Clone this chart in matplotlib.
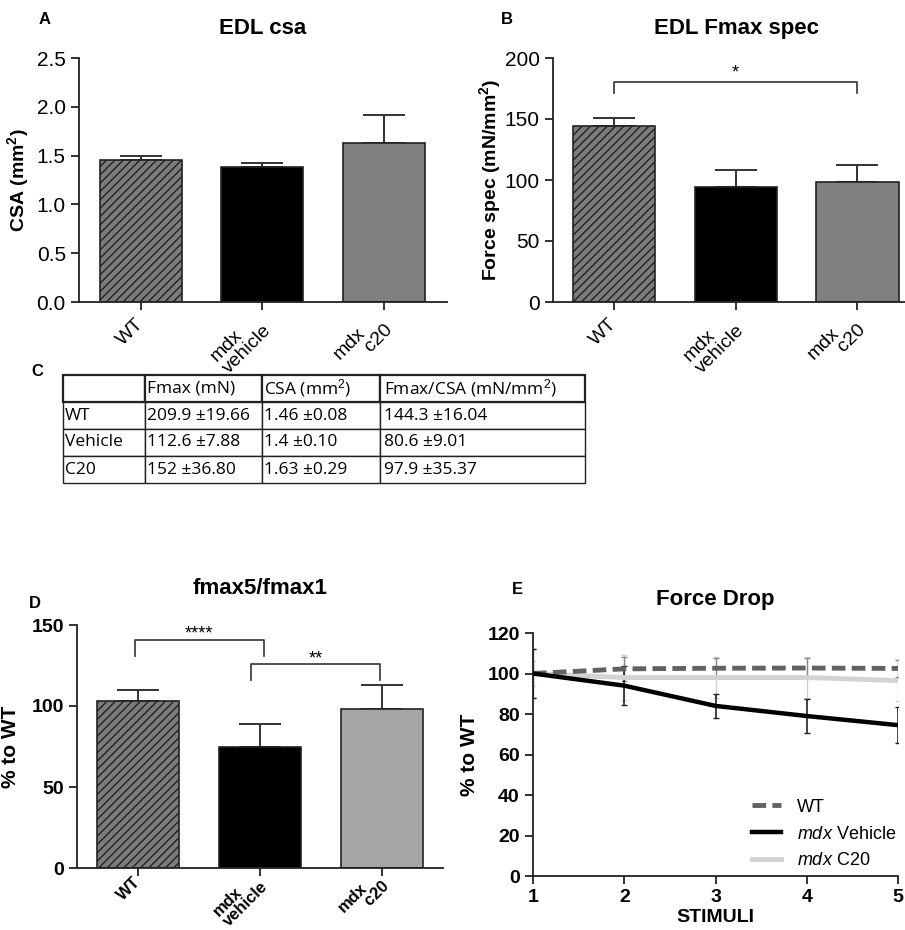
import matplotlib
matplotlib.use("Agg")
import matplotlib.pyplot as plt
import numpy as np

plt.rcParams['font.family'] = ['Liberation Sans', 'DejaVu Sans']
plt.rcParams['mathtext.fontset'] = 'custom'
plt.rcParams['mathtext.rm'] = 'Liberation Sans'
plt.rcParams['mathtext.it'] = 'Liberation Sans:italic'
plt.rcParams['mathtext.bf'] = 'Liberation Sans:bold'
plt.rcParams['hatch.linewidth'] = 1.0

# ---------------- data ----------------
group_labels = ["WT", "mdx\nvehicle", "mdx\n     c20"]
csa_mean = [1.46, 1.38, 1.63]
csa_err = [0.04, 0.04, 0.29]
fspec_mean = [144, 94, 98]
fspec_err = [7, 14, 14]
ratio_mean = [103, 75, 98]
ratio_err = [7, 14, 15]

table_cols = ["", "Fmax (mN)", "CSA (mm$^2$)", "Fmax/CSA (mN/mm$^2$)"]
table_rows = [
    ["WT", "209.9 \u00b119.66", "1.46 \u00b10.08", "144.3 \u00b116.04"],
    ["Vehicle", "112.6 \u00b17.88", "1.4 \u00b10.10", "80.6 \u00b19.01"],
    ["C20", "152 \u00b136.80", "1.63 \u00b10.29", "97.9 \u00b135.37"],
]

stimuli = [1, 2, 3, 4, 5]
drop_wt = [100, 102.3, 102.6, 102.7, 102.5]
drop_wt_err = [12, 6, 5, 5, 4]
drop_veh = [100, 94, 84, 79, 74.5]
drop_veh_err = [12, 9.5, 6, 8.5, 9]
drop_c20 = [100, 98, 98, 98, 96.5]
drop_c20_err = [6, 11, 10, 10, 10]

W, H = 905, 930
fig = plt.figure(figsize=(W / 100, H / 100), dpi=100)


def fx(px):
    return px / W


def fy(py):
    return 1 - py / H


def add_ax(l, t, r, b):
    return fig.add_axes([fx(l), fy(b), fx(r) - fx(l), fy(t) - fy(b)])


def style(ax):
    for s in ['top', 'right']:
        ax.spines[s].set_visible(False)
    for s in ['left', 'bottom']:
        ax.spines[s].set_linewidth(1.3)
        ax.spines[s].set_color('#222222')
    ax.tick_params(direction='out', length=6, width=1.3, color='#222222')


def bar_panel(ax, means, errs, c20_color, bold, lab_size, lab_pad, lsp):
    x = np.arange(3)
    colors = ['#7c7c7c', 'black', c20_color]
    hatches = ['////', None, None]
    for i in range(3):
        ax.bar(x[i], means[i], width=0.675, color=colors[i], edgecolor='#222222',
               linewidth=1.2, hatch=hatches[i], zorder=2)
    ax.errorbar(x, means, yerr=[[0, 0, 0], errs], fmt='none', ecolor='#333333',
                elinewidth=1.4, capsize=15, capthick=1.4, zorder=1)
    ax.set_xticks(x)
    ax.set_xticklabels(group_labels, rotation=45, ha='right', va='center',
                       rotation_mode='anchor', multialignment='left',
                       fontsize=lab_size, fontweight='bold' if bold else 'normal',
                       linespacing=lsp)
    style(ax)
    ax.tick_params(axis='x', pad=lab_pad)


# ---------------- Panel A ----------------
axA = add_ax(79, 58, 447, 302)
bar_panel(axA, csa_mean, csa_err, '#7f7f7f', False, 14, 8, 1.0)
axA.set_xlim(-0.51, 2.52)
axA.set_ylim(0, 2.5)
axA.set_yticks([0, 0.5, 1.0, 1.5, 2.0, 2.5])
axA.set_yticklabels(["0.0", "0.5", "1.0", "1.5", "2.0", "2.5"], fontsize=15)
axA.set_ylabel("CSA (mm$^\\mathbf{2}$)", fontsize=14, fontweight='bold', labelpad=4)
axA.set_title("EDL csa", fontsize=16, fontweight='bold', pad=17)

# ---------------- Panel B ----------------
axB = add_ax(553, 58, 905, 302)
bar_panel(axB, fspec_mean, fspec_err, '#7f7f7f', False, 14, 8, 1.0)
axB.set_xlim(-0.5, 2.39)
axB.set_ylim(0, 200)
axB.set_yticks([0, 50, 100, 150, 200])
axB.tick_params(axis='y', labelsize=15)
axB.set_ylabel("Force spec (mN/mm$^\\mathbf{2}$)", fontsize=14, fontweight='bold', labelpad=1)
axB.set_title("EDL Fmax spec", fontsize=16, fontweight='bold', pad=17, x=0.52)
# significance bracket
axB.plot([0, 0, 2, 2], [171, 180, 180, 171], color='#333333', lw=1.2, clip_on=False)
axB.text(1, 180.5, "*", ha='center', va='bottom', fontsize=13)

# ---------------- Table C ----------------
axC = add_ax(63, 375, 585, 483)
axC.axis('off')
tbl = axC.table(cellText=table_rows, colLabels=table_cols, bbox=[0, 0, 1, 1],
                colWidths=[82, 117, 118, 205], cellLoc='left', colLoc='left')
tbl.auto_set_font_size(False)
for (r, c), cell in tbl.get_celld().items():
    cell.set_linewidth(1.6 if r == 0 else 1.0)
    cell.set_edgecolor('#222222')
    cell.get_text().set_fontsize(12.5)
    cell.get_text().set_fontfamily(['Open Sans', 'DejaVu Sans'])
    cell.PAD = 0.02

# ---------------- Panel D ----------------
axD = add_ax(77, 625, 443, 868)
bar_panel(axD, ratio_mean, ratio_err, '#a5a5a5', True, 12, 2, 0.95)
axD.set_xlim(-0.506, 2.506)
axD.set_ylim(0, 150)
axD.set_yticks([0, 50, 100, 150])
axD.set_yticklabels(["0", "50", "100", "150"], fontsize=14, fontweight='bold')
axD.set_ylabel("% to WT", fontsize=15, fontweight='bold', labelpad=8)
axD.set_title("fmax5/fmax1", fontsize=16, fontweight='bold', pad=22)
axD.plot([-0.03, -0.03, 1.03, 1.03], [131, 141, 141, 131], color='#333333', lw=1.2, clip_on=False)
axD.text(0.5, 139, "****", ha='center', va='bottom', fontsize=13)
axD.plot([0.93, 0.93, 1.99, 1.99], [116, 126, 126, 116], color='#333333', lw=1.2, clip_on=False)
axD.text(1.46, 124, "**", ha='center', va='bottom', fontsize=13)

# ---------------- Panel E ----------------
axE = add_ax(533, 633, 898, 876)
axE.errorbar(stimuli, drop_c20, yerr=drop_c20_err, fmt='none', ecolor='#d0d0d0',
             elinewidth=1.0, capsize=2, zorder=2)
axE.errorbar(stimuli, drop_wt, yerr=drop_wt_err, fmt='none', ecolor='#8a8a8a',
             elinewidth=1.0, capsize=2, zorder=2)
axE.errorbar(stimuli, drop_veh, yerr=drop_veh_err, fmt='none', ecolor='#222222',
             elinewidth=1.2, capsize=2, zorder=3)
axE.plot(stimuli, drop_wt, color='#626262', lw=3.5, ls=(0, (2.8, 1.3)), zorder=4, label='WT')
axE.plot(stimuli, drop_veh, color='black', lw=3.2, zorder=4, label='$\\mathit{mdx}$ Vehicle')
axE.plot(stimuli, drop_c20, color='#d3d3d3', lw=3.5, zorder=3, label='$\\mathit{mdx}$ C20')
axE.set_xlim(1, 5)
axE.set_ylim(0, 120)
axE.set_xticks(stimuli)
axE.set_yticks(range(0, 121, 20))
axE.tick_params(labelsize=14)
for t in axE.get_xticklabels() + axE.get_yticklabels():
    t.set_fontweight('bold')
axE.set_xlabel("STIMULI", fontsize=14, fontweight='bold', labelpad=2)
axE.set_ylabel("% to WT", fontsize=15, fontweight='bold', labelpad=6)
axE.set_title("Force Drop", fontsize=16, fontweight='bold', pad=20, x=0.5)
style(axE)
leg = axE.legend(loc='lower right', frameon=False, fontsize=13, handlelength=1.6,
                 handletextpad=0.9, bbox_to_anchor=(1.04, -0.04), labelspacing=0.55)

# ---------------- Panel letters ----------------
for letter, (px, py) in {"A": (45, 20), "B": (507, 20), "C": (37, 371),
                         "D": (35, 603), "E": (517, 590)}.items():
    fig.text(fx(px), fy(py), letter, fontsize=12, fontweight='bold', ha='center', va='center')

fig.savefig("out.png", dpi=100)
